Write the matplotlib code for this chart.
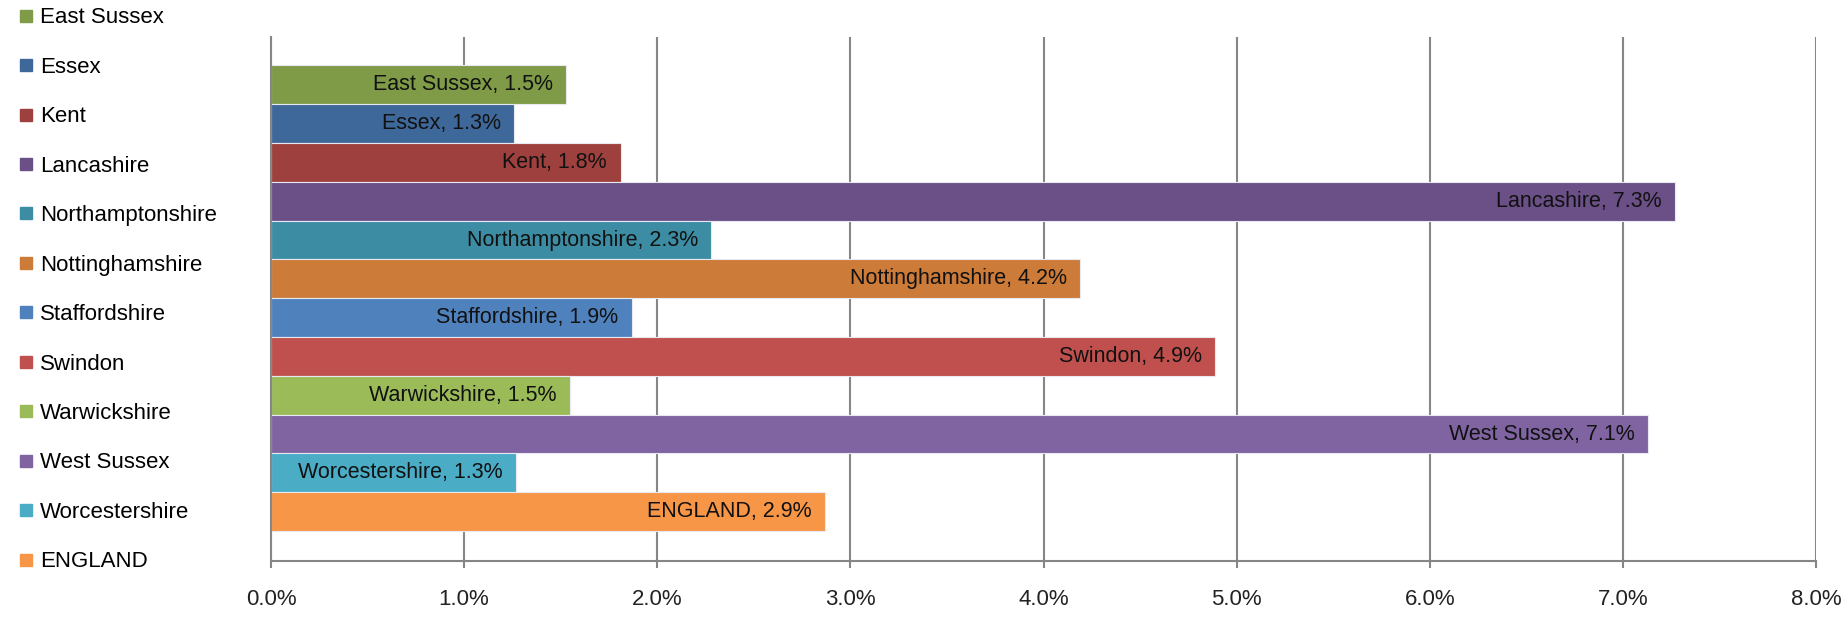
import numpy as np
import matplotlib
matplotlib.use('Agg')
import matplotlib.pyplot as plt
from matplotlib.lines import Line2D
from matplotlib.ticker import FuncFormatter

plt.rcParams['font.family'] = ['Liberation Sans Narrow', 'Liberation Sans', 'DejaVu Sans']

areas = ['East Sussex', 'Essex', 'Kent', 'Lancashire', 'Northamptonshire', 'Nottinghamshire',
         'Staffordshire', 'Swindon', 'Warwickshire', 'West Sussex', 'Worcestershire', 'ENGLAND']
values = [1.53, 1.26, 1.81, 7.27, 2.28, 4.19, 1.87, 4.89, 1.55, 7.13, 1.27, 2.87]
labels = ['1.5%', '1.3%', '1.8%', '7.3%', '2.3%', '4.2%', '1.9%', '4.9%', '1.5%', '7.1%', '1.3%', '2.9%']
colors = ['#7F9B47', '#3F689A', '#9E413E', '#6A5087', '#3C8DA3', '#CC7B38',
          '#4F81BD', '#C0504D', '#9BBB59', '#8064A2', '#4BACC6', '#F79646']

fig = plt.figure(figsize=(18.46, 6.19), dpi=100)
ax = fig.add_axes([271/1846, 1-561/619, (1816-271)/1846, (561-37)/619])

y = np.arange(len(areas))
bars = ax.barh(y, values, height=1.0, color=colors, edgecolor='#E8E8F0', linewidth=0.8, zorder=2)
for b, name, lab in zip(bars, areas, labels):
    ax.text(b.get_width() - 0.07, b.get_y() + b.get_height()/2, f'{name}, {lab}',
            ha='right', va='center', fontsize=15.5, color='#111111', zorder=3)

ax.set_xlim(0, 8)
ax.set_ylim(len(areas) - 0.5 + 0.77, -0.5 - 0.73)
ax.set_xticks(np.arange(0, 9))
ax.xaxis.set_major_formatter(FuncFormatter(lambda v, p: f'{v:.1f}%'))
ax.grid(axis='x', color='#868686', linewidth=1.5, zorder=0)
ax.set_axisbelow(True)
ax.set_yticks([])
for s in ['top', 'right']:
    ax.spines[s].set_visible(False)
for s in ['left', 'bottom']:
    ax.spines[s].set_color('#868686')
    ax.spines[s].set_linewidth(1.5)
ax.tick_params(axis='x', length=5, width=1.5, color='#868686', labelsize=16, pad=15, labelcolor='#222222')

handles = [Line2D([], [], marker='s', linestyle='', markersize=9, color=c) for c in colors]
fig.legend(handles, areas, loc='upper left', bbox_to_anchor=(0.003, 1.006), frameon=False,
           fontsize=16, labelspacing=1.28, handlelength=0.8, handletextpad=0.25, borderpad=0)

fig.savefig('out.png', dpi=100)
